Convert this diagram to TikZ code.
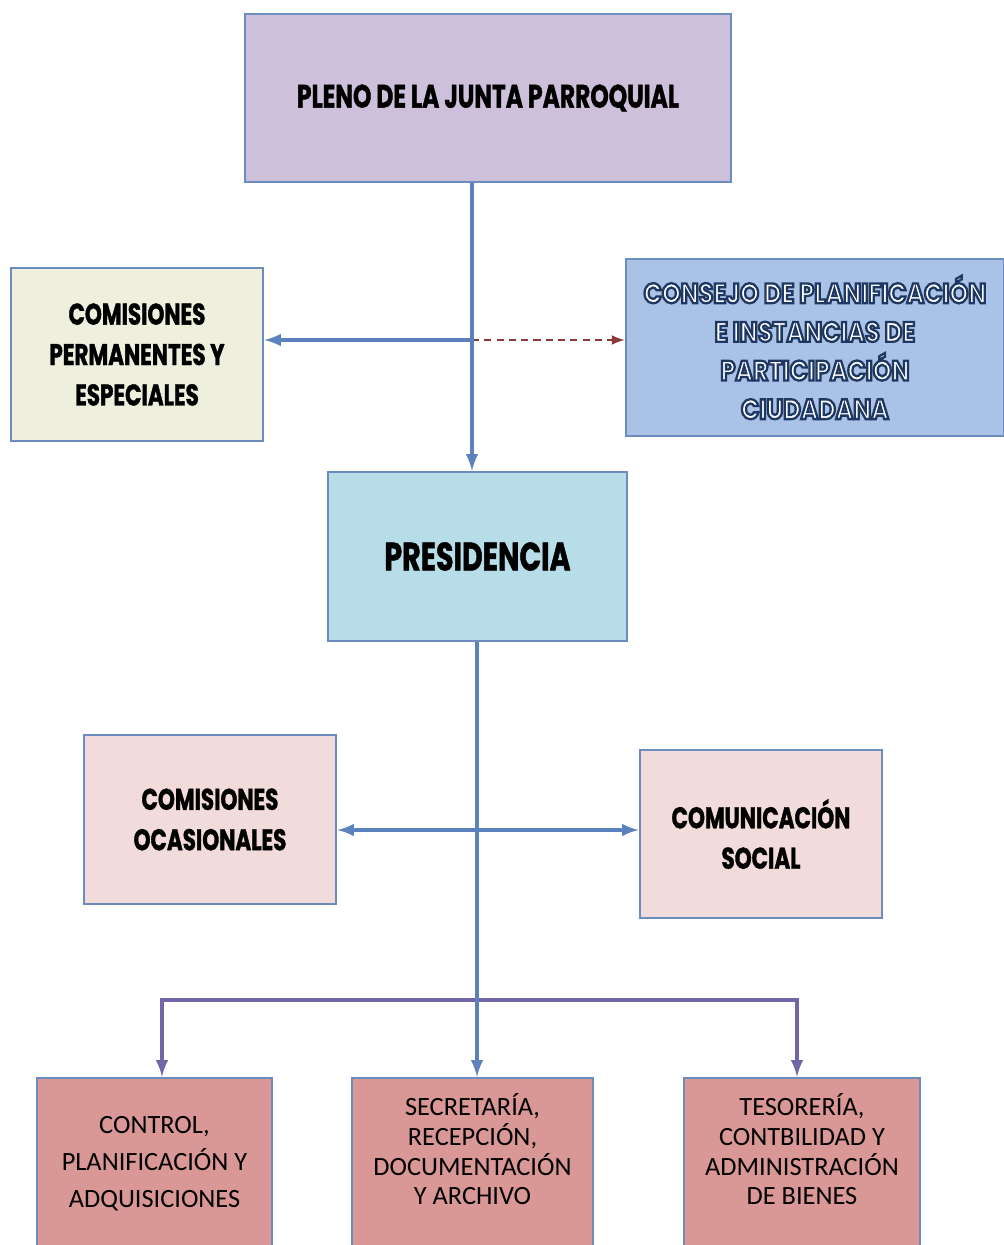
\documentclass[tikz,border=0pt]{standalone}
\usepackage{fontspec}
\setmainfont{Carlito}
\newfontfamily\titlefont[FakeStretch=0.72,FakeBold=1.2]{Poppins}
\newfontfamily\outlinefont[FakeStretch=0.85]{Poppins}
\usetikzlibrary{arrows}

\definecolor{boxline}{HTML}{6C8CC0}
\definecolor{linkblue}{HTML}{5B82BD}
\definecolor{barpurple}{HTML}{7464A8}
\definecolor{dashred}{HTML}{8B3A3A}
\definecolor{plenofill}{HTML}{CDC0DA}
\definecolor{permfill}{HTML}{EEEFDD}
\definecolor{consejofill}{HTML}{A9C2E5}
\definecolor{presfill}{HTML}{B7DEE8}
\definecolor{rosefill}{HTML}{F2DCDB}
\definecolor{unitfill}{HTML}{D99795}

% white letters with a dark blue outline
\newcommand\outlined[1]{{\color{white}%
    \special{pdf:literal direct 0.12 0.22 0.39 RG 1.3 w 2 Tr}#1%
    \special{pdf:literal direct 0 Tr}}}

\begin{document}
\begin{tikzpicture}[x=0.02cm,y=-0.02cm,>=latex,
    box/.style={draw=boxline,line width=1.6pt,align=center,inner sep=0pt},
    title/.style={font=\titlefont\bfseries\fontsize{17}{23}\selectfont},
    unit/.style={box,fill=unitfill,minimum height=3.44cm,
        font=\fontsize{15}{17}\selectfont},
    link/.style={draw=linkblue,line width=2.2pt},
    bar/.style={draw=barpurple,line width=2.2pt}]
    \useasboundingbox (0,0) rectangle (1004,1245);

    % boxes, placed at the centres
    \node[box,fill=plenofill,minimum width=9.72cm,minimum height=3.36cm,
        font=\titlefont\bfseries\fontsize{18.5}{22}\selectfont]
        (pleno) at (488,98) {PLENO DE LA JUNTA PARROQUIAL};
    \node[box,title,fill=permfill,minimum width=5.04cm,minimum height=3.46cm]
        (perm) at (137,354.5) {COMISIONES\\PERMANENTES Y\\ESPECIALES};
    \node[box,fill=consejofill,minimum width=7.56cm,minimum height=3.54cm,
        font=\outlinefont\bfseries\fontsize{16}{22}\selectfont]
        (consejo) at (815,347.5)
        {\outlined{CONSEJO DE PLANIFICACIÓN}\\\outlined{E INSTANCIAS DE}\\
         \outlined{PARTICIPACIÓN}\\\outlined{CIUDADANA}};
    \node[box,fill=presfill,minimum width=5.98cm,minimum height=3.38cm,
        font=\titlefont\bfseries\fontsize{22.5}{26}\selectfont]
        (presid) at (477.5,556.5) {PRESIDENCIA};
    \node[box,title,fill=rosefill,minimum width=5.04cm,minimum height=3.38cm]
        (ocas) at (210,819.5) {COMISIONES\\OCASIONALES};
    \node[box,title,fill=rosefill,minimum width=4.84cm,minimum height=3.36cm]
        (comun) at (761,834) {COMUNICACIÓN\\SOCIAL};
    \node[unit,minimum width=4.7cm,font=\fontsize{15}{21}\selectfont]
        (control) at (154.5,1164) {CONTROL,\\PLANIFICACIÓN Y\\ADQUISICIONES};
    \node[unit,minimum width=4.82cm] (secret) at (472.5,1164)
        {SECRETARÍA,\\RECEPCIÓN,\\DOCUMENTACIÓN\\Y ARCHIVO\\};
    \node[unit,minimum width=4.72cm] (tesor) at (802,1164)
        {TESORERÍA,\\CONTBILIDAD Y\\ADMINISTRACIÓN\\DE BIENES\\};

    % junction points on the two spines
    \coordinate (tophub) at (472,340);
    \coordinate (midhub) at (477,830);
    \coordinate (barhub) at (477,1000);

    % upper part
    \draw[link,->] (tophub) -- (tophub -| perm.east);
    \draw[dashred,line width=1.5pt,dash pattern=on 4pt off 3pt,->]
        (tophub) -- (tophub -| consejo.west);
    \draw[link,->] (pleno.south -| tophub) -- (presid.north -| tophub);

    % lower part
    \draw[bar,->] (barhub) -| ([xshift=0.15cm]control.north);
    \draw[bar,->] (barhub) -| ([xshift=-0.1cm]tesor.north);
    \draw[link,<->] (midhub -| ocas.east) -- (midhub -| comun.west);
    \draw[link,->] (presid.south -| midhub) -- (secret.north -| midhub);
\end{tikzpicture}
\end{document}
